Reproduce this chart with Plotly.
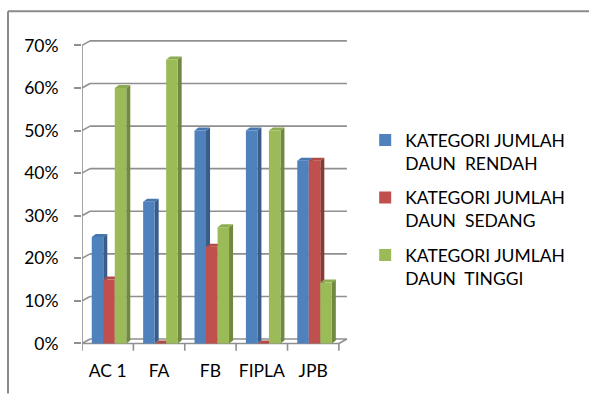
import plotly.graph_objects as go

# Data: share of plants in each leaf-count category per treatment (%)
categories = ["AC 1", "FA", "FB", "FIPLA", "JPB"]
series_names = [
    "KATEGORI JUMLAH<br>DAUN  RENDAH",
    "KATEGORI JUMLAH<br>DAUN  SEDANG",
    "KATEGORI JUMLAH<br>DAUN  TINGGI",
]
rendah = [25.0, 33.3, 50.0, 50.0, 42.9]
sedang = [15.0, 0.0, 22.7, 0.0, 42.9]
tinggi = [60.0, 66.7, 27.3, 50.0, 14.3]
y_ticks = [0, 10, 20, 30, 40, 50, 60, 70]
y_ticktext = ["0%", "10%", "20%", "30%", "40%", "50%", "60%", "70%"]

values = [rendah, sedang, tinggi]
front = ["#4F81BD", "#C0504D", "#9BBB59"]
side = ["#385D8A", "#8C3836", "#71893F"]
top = ["#4777B0", "#B24A47", "#8DAC50"]

# pseudo-3D geometry (data units)
W = 0.224            # bar width
OFF0 = -0.31         # left edge of first bar relative to category centre
BDX, BDY = 0.078, 0.7   # bar depth offset
GDX, GDY = 0.156, 1.05  # back-wall offset
GRID = "#8f8f8f"
FRAME = "#8a8a8a"

# plot-area size in pixels, used to place the outer frame in paper units
L, R, T, B = 82, 239, 38.7, 41.5
PW, PH = 589 - L - R, 394 - T - B

n = len(categories)
shapes = []


def seg(x0, y0, x1, y1, color=GRID, width=1.6, ref="data"):
    xr, yr = ("x", "y") if ref == "data" else ("paper", "paper")
    return dict(type="line", xref=xr, yref=yr, x0=x0, y0=y0, x1=x1, y1=y1,
                line=dict(color=color, width=width), layer="below")


# back wall gridlines with diagonal joints to the front axis
for v in y_ticks:
    shapes.append(seg(-0.5 + GDX, v + GDY, n - 0.5 + GDX, v + GDY))
    shapes.append(seg(-0.5, v, -0.5 + GDX, v + GDY))
# front vertical axis
shapes.append(seg(-0.5, 0, -0.5, 70))
# floor front edge, right diagonal, category ticks
shapes.append(seg(-0.5, 0, n - 0.5, 0))
shapes.append(seg(n - 0.5, 0, n - 0.5 + GDX, GDY))
for i in range(n + 1):
    shapes.append(seg(i - 0.5, 0, i - 0.5, -1.7))

fig = go.Figure()
for k, (name, vals) in enumerate(zip(series_names, values)):
    off = OFF0 + k * W
    fig.add_trace(go.Bar(
        x=categories, y=vals, name=name, width=W, offset=off,
        marker=dict(color=front[k], line=dict(width=0)),
        legendgroup=f"g{k}", hoverinfo="skip",
    ))
    for i, v in enumerate(vals):
        x0 = i + off
        x1 = x0 + W
        # side face
        shapes.append(dict(type="path", xref="x", yref="y", layer="below",
                           path=f"M{x1},0 L{x1 + BDX},{BDY} L{x1 + BDX},{v + BDY} L{x1},{v} Z",
                           fillcolor=side[k], line=dict(width=0)))
        # top face
        shapes.append(dict(type="path", xref="x", yref="y", layer="below",
                           path=f"M{x0},{v} L{x0 + BDX},{v + BDY} L{x1 + BDX},{v + BDY} L{x1},{v} Z",
                           fillcolor=top[k], line=dict(width=0)))

# outer frame: top edge and left edge
fx0, fx1 = (8 - L) / PW, (589 - L) / PW
fy_top = (394 - B - 11) / PH
fy_bot = (394 - B - 394) / PH
shapes.append(seg(fx0, fy_top, fx1, fy_top, color=FRAME, width=2, ref="paper"))
shapes.append(seg(fx0, fy_bot, fx0, fy_top, color=FRAME, width=2, ref="paper"))

fig.update_layout(
    width=589, height=394,
    margin=dict(l=L, r=R, t=T, b=B),
    paper_bgcolor="white", plot_bgcolor="white",
    barmode="overlay",
    shapes=shapes,
    font=dict(family="Lato, Carlito, Calibri, sans-serif", size=17.5, color="#000000"),
    xaxis=dict(type="category", range=[-0.5, n - 0.5 + GDX + 0.06],
               showgrid=False, zeroline=False, showline=False, ticks="",
               ticklabelstandoff=6, tickfont=dict(size=17.5)),
    yaxis=dict(range=[-2, 71.5], tickvals=y_ticks, ticktext=y_ticktext,
               showgrid=False, zeroline=False, showline=False,
               ticks="outside", ticklen=7, tickwidth=1.6, tickcolor=GRID,
               ticklabelstandoff=12, tickfont=dict(size=17.5)),
    legend=dict(xref="container", yref="container", x=0.62, y=0.69,
                xanchor="left", yanchor="top", valign="top",
                tracegroupgap=9, font=dict(size=17.5), bgcolor="rgba(0,0,0,0)"),
    showlegend=True,
)

fig.write_html("out.html")
